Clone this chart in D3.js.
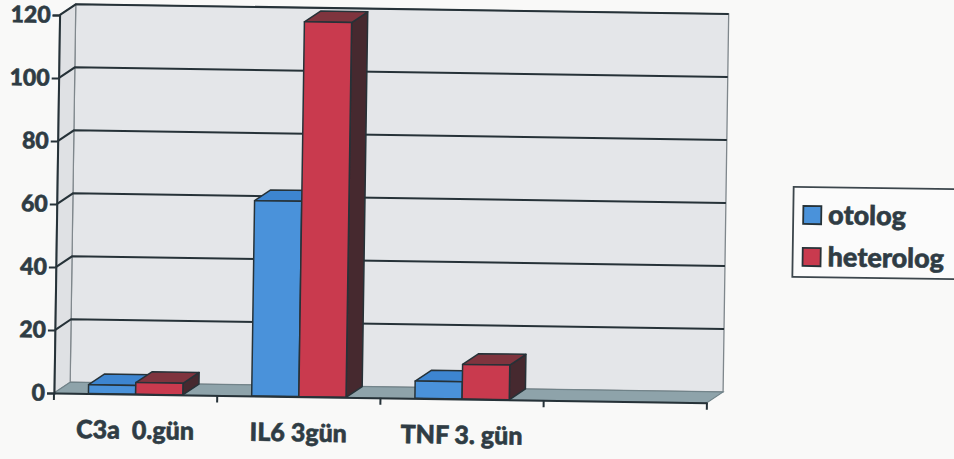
<!DOCTYPE html>
<html>
<head>
<meta charset="utf-8">
<script src="https://cdn.jsdelivr.net/npm/d3@7"></script>
<style>
  html, body { margin: 0; padding: 0; background: #f9f9f8; }
  svg { display: block; }
  text { font-family: Lato, "Open Sans", sans-serif; font-weight: 900; fill: #2f3c44;
         stroke: #2f3c44; stroke-width: 0.6px; }
</style>
</head>
<body>
<svg id="chart" width="954" height="459"></svg>
<script>
// Chart data
const categories = ["C3a  0.gün", "IL6 3gün", "TNF 3. gün", ""];
const series = ["otolog", "heterolog"];
const otolog = [2.8, 62, 5.5, null];
const heterolog = [3.7, 119, 11, null];
const yTicks = [0, 20, 40, 60, 80, 100, 120];

const colors = {
  otolog:    { front: "#4a92da", top: "#3d85d0", side: "#2c5f95" },
  heterolog: { front: "#c93a4e", top: "#7f343e", side: "#46292f" }
};
const ink = "#263238";

const svg = d3.select("#chart");

// Plot geometry: front-left corner of the floor, and the 3D depth offset
const ox = 54, oy = 393;
const depth = { dx: 16, dy: -11 };

const x0 = d3.scaleBand().domain(categories).range([ox, 707]).padding(0);
const x1 = d3.scaleBand().domain(series).range([0, x0.bandwidth()])
  .paddingInner(0).paddingOuter(0.73);
const y = d3.scaleLinear().domain([0, 120]).range([oy, 15]);

const xEnd = x0.range()[1];
const g = svg.append("g").attr("transform", `rotate(0.85, ${ox}, ${oy})`);

const pts = arr => arr.map(p => p.join(",")).join(" ");

// Back wall
g.append("polygon")
  .attr("points", pts([
    [ox + depth.dx, y(120) + depth.dy], [xEnd + depth.dx, y(120) + depth.dy],
    [xEnd + depth.dx, y(0) + depth.dy], [ox + depth.dx, y(0) + depth.dy]]))
  .attr("fill", "#e4e6e9").attr("stroke", "#7f878c").attr("stroke-width", 1.3);

// Side wall
g.append("polygon")
  .attr("points", pts([
    [ox, y(0)], [ox, y(120)], [ox + depth.dx, y(120) + depth.dy], [ox + depth.dx, y(0) + depth.dy]]))
  .attr("fill", "#dfe1e4").attr("stroke", "#7f878c").attr("stroke-width", 1.2);

// Floor
g.append("polygon")
  .attr("points", pts([
    [ox, y(0)], [xEnd, y(0)], [xEnd + depth.dx, y(0) + depth.dy], [ox + depth.dx, y(0) + depth.dy]]))
  .attr("fill", "#8ea3aa").attr("stroke", "#6f8288").attr("stroke-width", 1);

// Gridlines across side wall and back wall
g.append("g").selectAll("polyline")
  .data(yTicks.filter(t => t > 0))
  .join("polyline")
  .attr("points", t => pts([
    [ox, y(t)], [ox + depth.dx, y(t) + depth.dy], [xEnd + depth.dx, y(t) + depth.dy]]))
  .attr("fill", "none").attr("stroke", ink).attr("stroke-width", 2.1);

// Bars (front face, top face, right side)
const rows = categories.map((c, i) => ({ c, values: [
  { s: "otolog", v: otolog[i] }, { s: "heterolog", v: heterolog[i] }] }));

const barG = g.append("g");
rows.forEach(row => {
  row.values.forEach(d => {
    if (d.v == null) return;
    const xl = x0(row.c) + x1(d.s);
    const xr = xl + x1.bandwidth();
    const yt = y(d.v), yb = y(0);
    const c = colors[d.s];
    const b = barG.append("g").attr("stroke", ink).attr("stroke-width", 1.5)
      .attr("stroke-linejoin", "round");
    b.append("polygon")
      .attr("points", pts([[xr, yt], [xr + depth.dx, yt + depth.dy], [xr + depth.dx, yb + depth.dy], [xr, yb]]))
      .attr("fill", c.side);
    b.append("polygon")
      .attr("points", pts([[xl, yt], [xl + depth.dx, yt + depth.dy], [xr + depth.dx, yt + depth.dy], [xr, yt]]))
      .attr("fill", c.top);
    b.append("rect")
      .attr("x", xl).attr("y", yt).attr("width", xr - xl).attr("height", yb - yt)
      .attr("fill", c.front);
  });
});

// Value axis
const yAxis = g.append("g").attr("transform", `translate(${ox},0)`)
  .call(d3.axisLeft(y).tickValues(yTicks).tickSize(7).tickPadding(2).tickFormat(d3.format("d")));
yAxis.select(".domain").attr("stroke", ink).attr("stroke-width", 2);
yAxis.selectAll(".tick line").attr("stroke", ink).attr("stroke-width", 2);
yAxis.selectAll(".tick text")
  .attr("font-size", 23).attr("fill", "#2f3c44")
  .style("font-family", "Lato, sans-serif").style("font-weight", 900);

// Category axis
const xAxis = g.append("g").attr("transform", `translate(0,${oy})`)
  .call(d3.axisBottom(x0).tickSize(0).tickPadding(27));
xAxis.select(".domain").attr("stroke", ink).attr("stroke-width", 2);
xAxis.selectAll(".tick text")
  .attr("font-size", 25).attr("fill", "#2f3c44")
  .style("white-space", "pre")
  .style("font-family", "Lato, sans-serif").style("font-weight", 900);
// Tick marks at the band boundaries
const bounds = categories.map(c => x0(c)).concat([xEnd]);
xAxis.append("g").selectAll("line").data(bounds).join("line")
  .attr("x1", d => d).attr("x2", d => d).attr("y1", 0).attr("y2", 7)
  .attr("stroke", ink).attr("stroke-width", 2);

// Legend
const legend = svg.append("g").attr("transform", "rotate(0.85, 873, 233)");
legend.append("rect")
  .attr("x", 793).attr("y", 188).attr("width", 175).attr("height", 90)
  .attr("fill", "#fbfbfb").attr("stroke", "#3c464c").attr("stroke-width", 1.8);
const li = legend.selectAll("g.item").data(series).join("g")
  .attr("class", "item")
  .attr("transform", (d, i) => `translate(803, ${207 + i * 42})`);
li.append("rect").attr("width", 18).attr("height", 18)
  .attr("fill", d => colors[d].front).attr("stroke", ink).attr("stroke-width", 1.8);
li.append("text").attr("x", 25).attr("y", 18).attr("font-size", 27).text(d => d);
</script>
</body>
</html>
